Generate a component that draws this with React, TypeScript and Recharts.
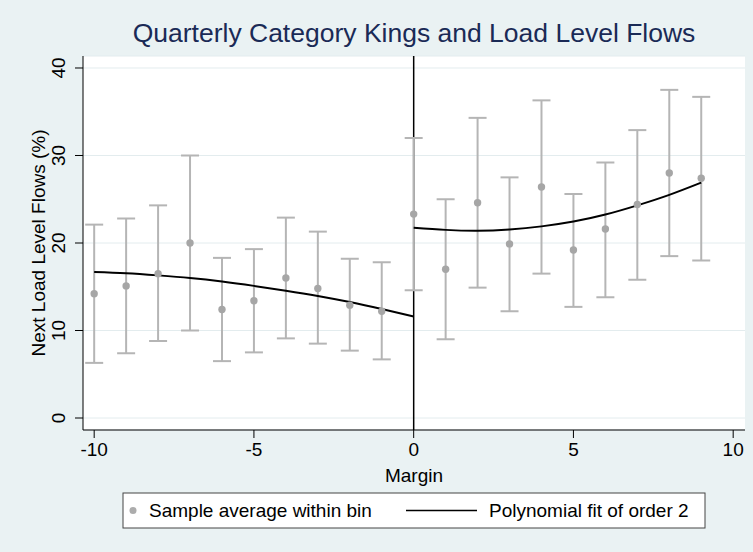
import React from "react";
import {
  ComposedChart,
  Scatter,
  Line,
  XAxis,
  YAxis,
  CartesianGrid,
  ErrorBar,
  ReferenceLine,
  Label,
} from "recharts";

// bins of the running variable (margin)
const bins = [-10, -9, -8, -7, -6, -5, -4, -3, -2, -1, 0, 1, 2, 3, 4, 5, 6, 7, 8, 9];
const binMeans = [14.2, 15.1, 16.5, 20.0, 12.4, 13.4, 16.0, 14.8, 12.9, 12.2, 23.3, 17.0, 24.6, 19.9, 26.4, 19.2, 21.6, 24.4, 28.0, 27.4];
const ciLow = [6.3, 7.4, 8.8, 10.0, 6.5, 7.5, 9.1, 8.5, 7.7, 6.7, 14.6, 9.0, 14.9, 12.2, 16.5, 12.7, 13.8, 15.8, 18.5, 18.0];
const ciHigh = [22.1, 22.8, 24.3, 30.0, 18.3, 19.3, 22.9, 21.3, 18.2, 17.8, 32.0, 25.0, 34.3, 27.5, 36.3, 25.6, 29.2, 32.9, 37.5, 36.7];

const fitLeftX = [-10, -9, -8, -7, -6, -5, -4, -3, -2, -1, 0];
const fitLeftY = [16.7, 16.55, 16.3, 16.0, 15.6, 15.1, 14.55, 13.95, 13.25, 12.45, 11.6];
const fitRightX = [0, 1, 2, 3, 4, 5, 6, 7, 8, 9];
const fitRightY = [21.75, 21.5, 21.4, 21.55, 21.9, 22.45, 23.25, 24.3, 25.5, 26.9];

const xTicks = [-10, -5, 0, 5, 10];
const yTicks = [0, 10, 20, 30, 40];

const TITLE = "Quarterly Category Kings and Load Level Flows";
const FONT = "'Liberation Sans', Arial, sans-serif";

const points = bins.map((x, i) => ({
  x,
  y: binMeans[i],
  err: [binMeans[i] - ciLow[i], ciHigh[i] - binMeans[i]],
}));
const fitLeft = fitLeftX.map((x, i) => ({ x, y: fitLeftY[i] }));
const fitRight = fitRightX.map((x, i) => ({ x, y: fitRightY[i] }));

const Dot = (p: any) => <circle cx={p.cx} cy={p.cy} r={3.7} fill="#a6a6a6" />;

const YTick = (p: any) => (
  <text
    transform={`translate(${p.x - 10},${p.y}) rotate(-90)`}
    textAnchor="middle"
    fontSize={19}
    fontFamily={FONT}
    fill="#000"
  >
    {p.payload.value}
  </text>
);

const YTitle = (p: any) => {
  const vb = p.viewBox || { y: 56, height: 374 };
  return (
    <text
      transform={`translate(45,${vb.y + vb.height / 2}) rotate(-90)`}
      textAnchor="middle"
      fontSize={19}
      fontFamily={FONT}
      fill="#000"
    >
      Next Load Level Flows (%)
    </text>
  );
};

export default function App() {
  return (
    <div style={{ position: "absolute", left: 0, top: 0, width: 753, height: 552, background: "#eaf2f3" }}>
      <ComposedChart width={753} height={552} margin={{ top: 56, right: 8, bottom: 0, left: 0 }}>
        <CartesianGrid vertical={false} stroke="#e3ecee" fill="#ffffff" />
        <XAxis
          type="number"
          dataKey="x"
          domain={[-10.35, 10.37]}
          ticks={xTicks}
          allowDataOverflow
          height={122}
          tickSize={8}
          tickMargin={5}
          stroke="#000"
          tick={{ fontSize: 19, fill: "#000", fontFamily: FONT }}
        >
          <Label value="Margin" position="insideTop" offset={39} fontSize={19} fill="#000" fontFamily={FONT} />
        </XAxis>
        <YAxis
          type="number"
          dataKey="y"
          domain={[-1.37, 41.37]}
          ticks={yTicks}
          allowDataOverflow
          width={83}
          tickSize={8}
          tickMargin={0}
          stroke="#000"
          tick={<YTick />}
        >
          <Label content={<YTitle />} />
        </YAxis>
        <ReferenceLine x={0} stroke="#000" strokeWidth={1.5} />
        <Scatter data={points} dataKey="y" shape={<Dot />} isAnimationActive={false}>
          <ErrorBar dataKey="err" direction="y" width={9} stroke="#b5b5b5" strokeWidth={2} />
        </Scatter>
        <Line data={fitLeft} dataKey="y" type="natural" stroke="#000" strokeWidth={2} dot={false} activeDot={false} isAnimationActive={false} />
        <Line data={fitRight} dataKey="y" type="natural" stroke="#000" strokeWidth={2} dot={false} activeDot={false} isAnimationActive={false} />
      </ComposedChart>
      <svg width={753} height={552} style={{ position: "absolute", left: 0, top: 0, pointerEvents: "none" }}>
        <text x={414} y={42} textAnchor="middle" fontSize={26.5} fontFamily={FONT} fill="#1a2a56">
          {TITLE}
        </text>
        <rect x={123} y={493} width={582} height={35} fill="#ffffff" stroke="#444" strokeWidth={1} />
        <circle cx={133} cy={510.5} r={3.5} fill="#acacac" />
        <text x={149} y={517} fontSize={19} fontFamily={FONT} fill="#000">
          Sample average within bin
        </text>
        <line x1={406} x2={477} y1={510.5} y2={510.5} stroke="#000" strokeWidth={1.5} />
        <text x={489} y={517} fontSize={19} fontFamily={FONT} fill="#000">
          Polynomial fit of order 2
        </text>
      </svg>
    </div>
  );
}
